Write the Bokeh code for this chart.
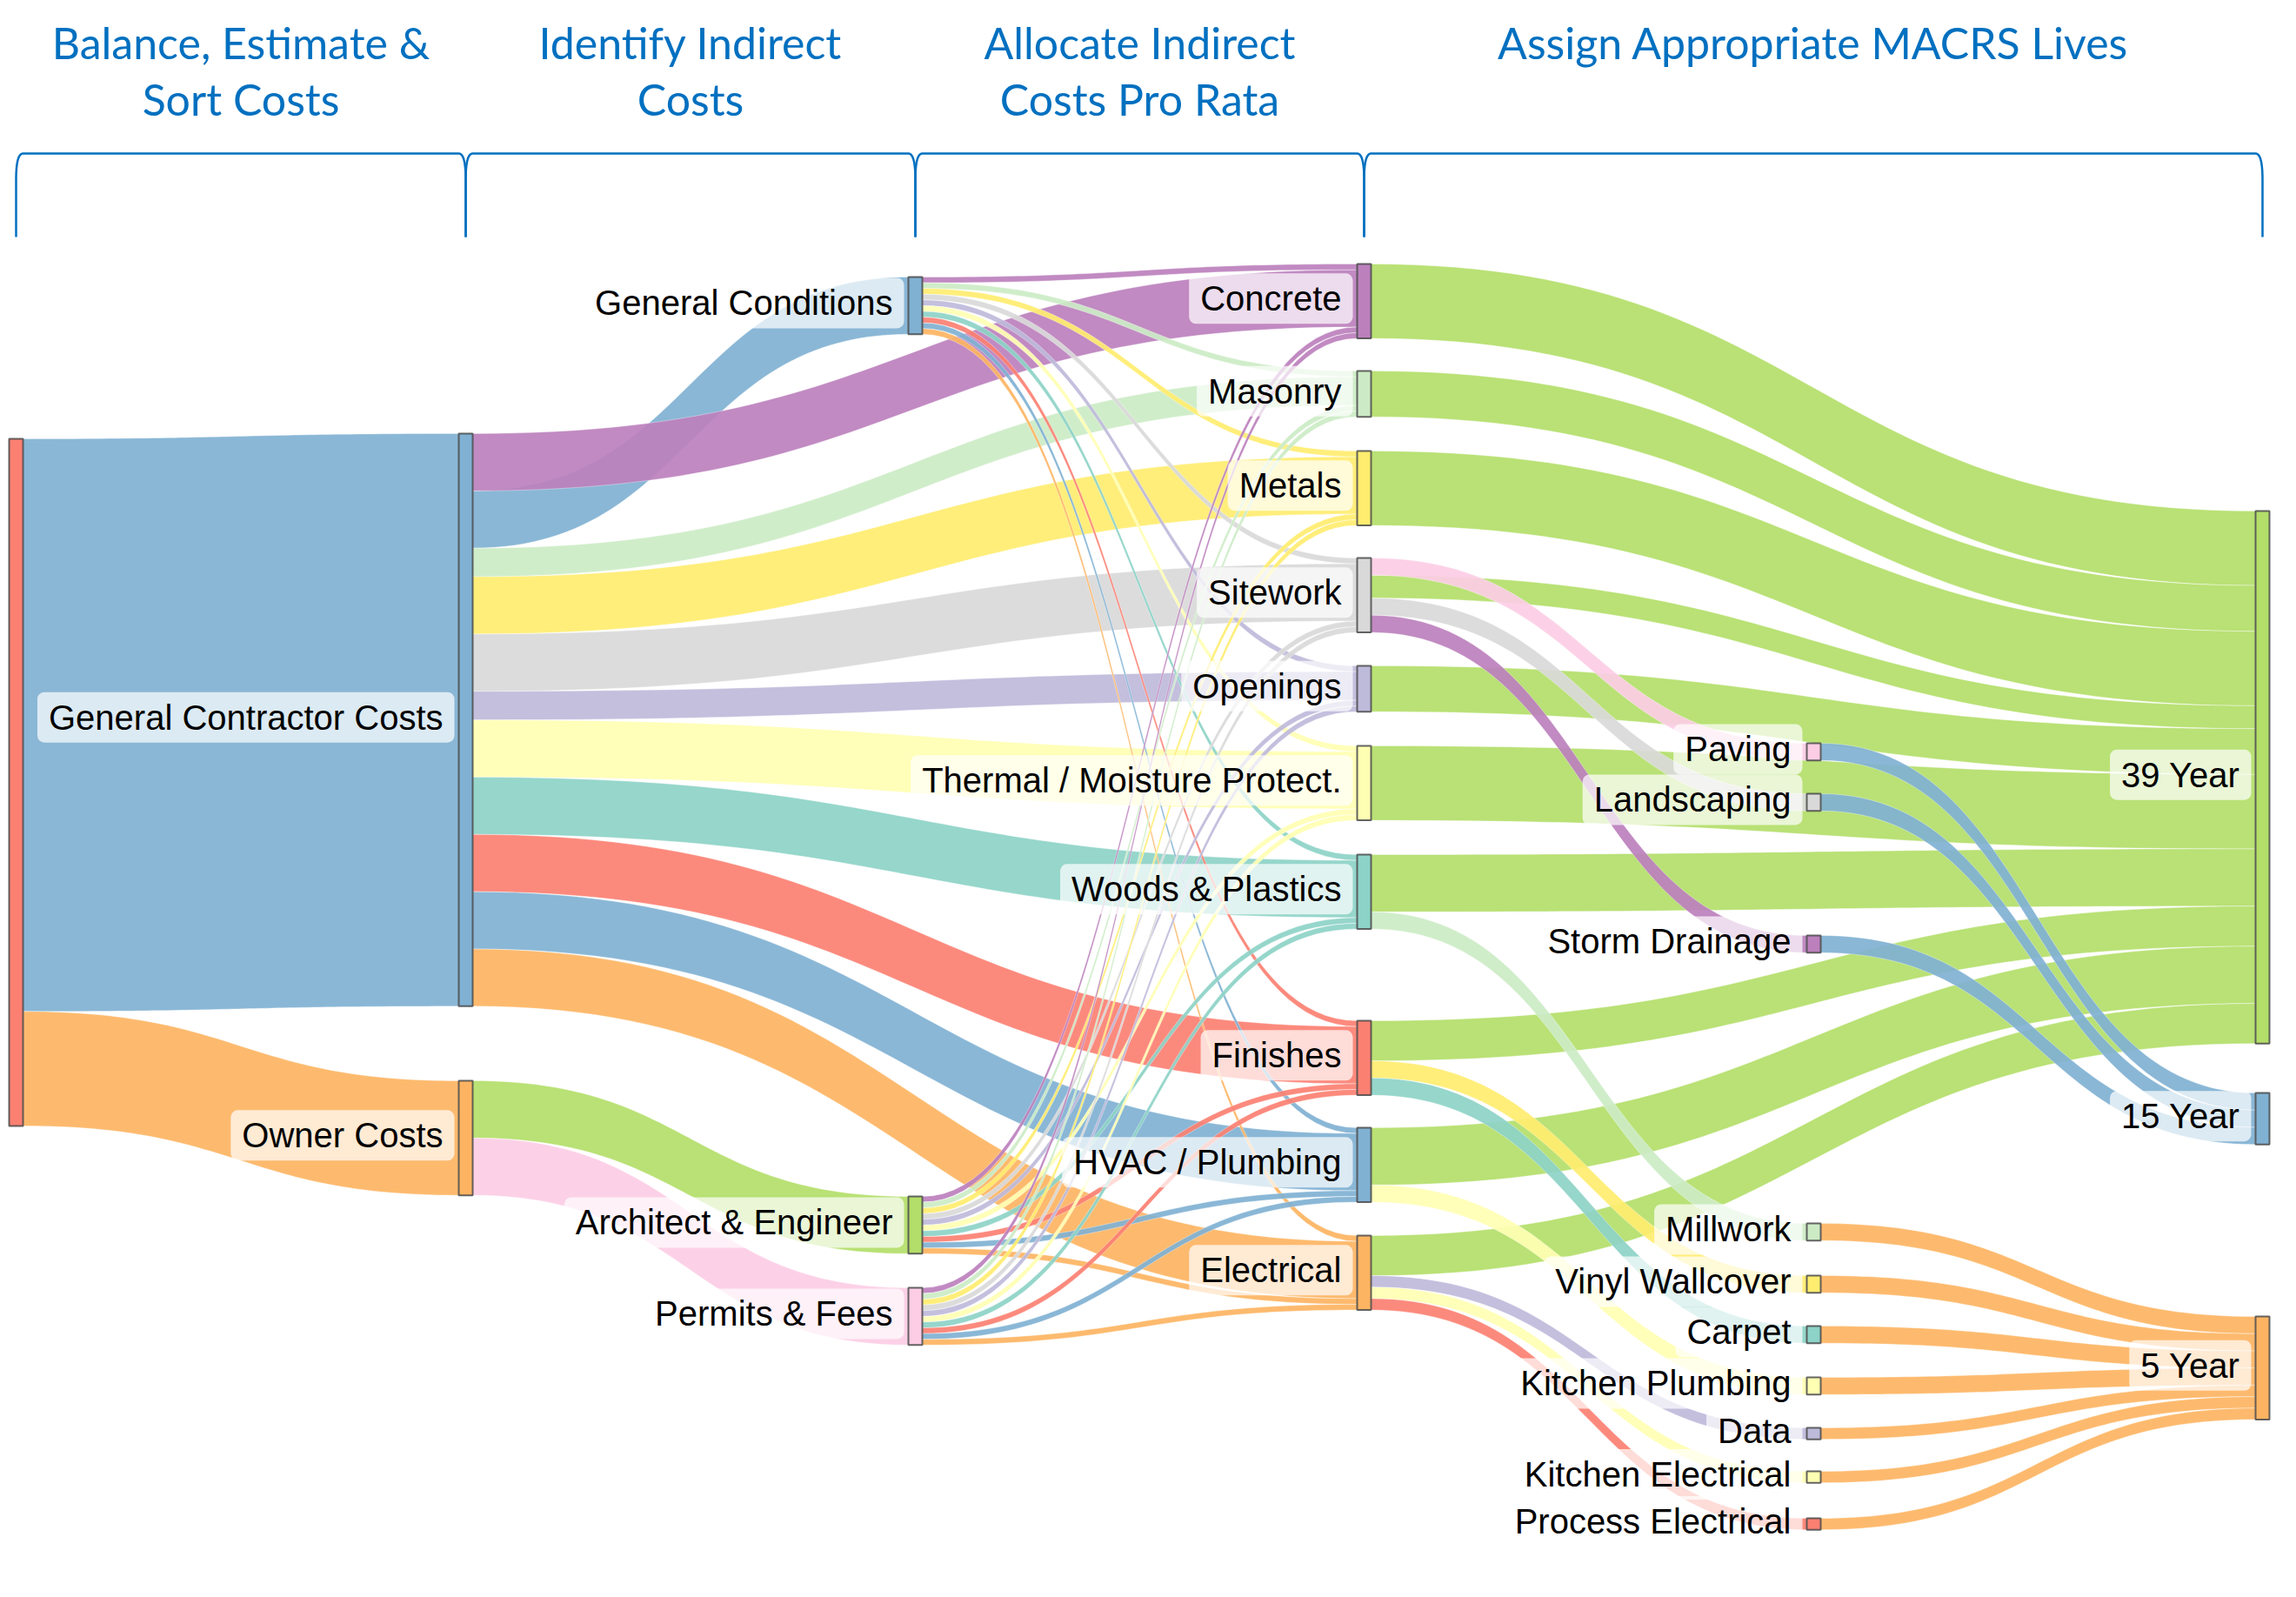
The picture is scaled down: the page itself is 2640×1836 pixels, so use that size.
import numpy as np
from bokeh.plotting import figure
from bokeh.models import Range1d
from bokeh.embed import file_html
from bokeh.resources import INLINE
from bokeh.core.properties import value

# ---------------- data ----------------
node_names = [
    "Total", "General Contractor Costs", "Owner Costs",
    "General Conditions", "Architect & Engineer", "Permits & Fees",
    "Concrete", "Masonry", "Metals", "Sitework", "Openings",
    "Thermal / Moisture Protect.", "Woods & Plastics", "Finishes",
    "HVAC / Plumbing", "Electrical",
    "Paving", "Landscaping", "Storm Drainage", "Millwork", "Vinyl Wallcover",
    "Carpet", "Kitchen Plumbing", "Data", "Kitchen Electrical", "Process Electrical",
    "39 Year", "15 Year", "5 Year",
]
node_labels = [
    "", "General Contractor Costs", "Owner Costs",
    "General Conditions", "Architect & Engineer", "Permits & Fees",
    "Concrete", "Masonry", "Metals", "Sitework", "Openings",
    "Thermal / Moisture Protect.", "Woods & Plastics", "Finishes",
    "HVAC / Plumbing", "Electrical",
    "Paving", "Landscaping", "Storm Drainage", "Millwork", "Vinyl Wallcover",
    "Carpet", "Kitchen Plumbing", "Data", "Kitchen Electrical", "Process Electrical",
    "39 Year", "15 Year", "5 Year",
]
node_colors = [
    "#fb8072", "#80b1d3", "#fdb462",
    "#80b1d3", "#b3de69", "#fccde5",
    "#bc80bd", "#ccebc5", "#ffed6f", "#d9d9d9", "#bebada",
    "#ffffb3", "#8dd3c7", "#fb8072", "#80b1d3", "#fdb462",
    "#fccde5", "#d9d9d9", "#bc80bd", "#ccebc5", "#ffed6f",
    "#8dd3c7", "#ffffb3", "#bebada", "#ffffb3", "#fb8072",
    "#b3de69", "#80b1d3", "#fdb462",
]

direct_costs = ["Concrete", "Masonry", "Metals", "Sitework", "Openings",
                "Thermal / Moisture Protect.", "Woods & Plastics", "Finishes",
                "HVAC / Plumbing", "Electrical"]
gc_direct_values = [400, 200, 400, 400, 200, 400, 400, 400, 400, 400]
gencond_alloc = [40, 40, 40, 40, 40, 40, 40, 40, 40, 40]
ae_alloc = [40, 40, 40, 40, 40, 40, 40, 40, 40, 40]
permits_alloc = [40, 40, 40, 40, 40, 40, 40, 40, 40, 40]
to_39_values = [520, 320, 520, 160, 320, 520, 400, 280, 400, 280]

split_src = ["Sitework", "Sitework", "Sitework", "Woods & Plastics", "Finishes",
             "Finishes", "HVAC / Plumbing", "Electrical", "Electrical", "Electrical"]
split_tgt = ["Paving", "Landscaping", "Storm Drainage", "Millwork", "Vinyl Wallcover",
             "Carpet", "Kitchen Plumbing", "Data", "Kitchen Electrical", "Process Electrical"]
split_values = [120, 120, 120, 120, 120, 120, 120, 80, 80, 80]

life_src = ["Paving", "Landscaping", "Storm Drainage", "Millwork", "Vinyl Wallcover",
            "Carpet", "Kitchen Plumbing", "Data", "Kitchen Electrical", "Process Electrical"]
life_tgt = ["15 Year", "15 Year", "15 Year", "5 Year", "5 Year",
            "5 Year", "5 Year", "5 Year", "5 Year", "5 Year"]
life_values = [120, 120, 120, 120, 120, 120, 120, 80, 80, 80]

top_links = [("Total", "General Contractor Costs", 4000), ("Total", "Owner Costs", 800),
             ("General Contractor Costs", "General Conditions", 400)]
owner_links = [("Owner Costs", "Architect & Engineer", 400), ("Owner Costs", "Permits & Fees", 400)]

title_lines = [["Balance, Estimate &", "Sort Costs"], ["Identify Indirect", "Costs"],
               ["Allocate Indirect", "Costs Pro Rata"], ["Assign Appropriate MACRS Lives"]]

# ---------------- layout (positions / styles) ----------------
COL_X = [10, 527, 1044, 1560, 2077, 2593]
NODE_W = 16
PX_PER_UNIT = 790.0 / 4800.0
node_col = [0, 1, 1, 2, 2, 2] + [3] * 10 + [4] * 10 + [5] * 3
node_top = {
    "Total": 506, "General Contractor Costs": 500, "Owner Costs": 1244,
    "General Conditions": 320, "Architect & Engineer": 1377, "Permits & Fees": 1482,
    "Concrete": 305, "Masonry": 428, "Metals": 520, "Sitework": 643, "Openings": 767,
    "Thermal / Moisture Protect.": 859, "Woods & Plastics": 984, "Finishes": 1175,
    "HVAC / Plumbing": 1298, "Electrical": 1422,
    "Paving": 856, "Landscaping": 914, "Storm Drainage": 1077, "Millwork": 1408,
    "Vinyl Wallcover": 1468, "Carpet": 1526, "Kitchen Plumbing": 1585, "Data": 1643,
    "Kitchen Electrical": 1693, "Process Electrical": 1747,
    "39 Year": 589, "15 Year": 1258, "5 Year": 1515,
}
TITLE_BASE = [50, 115]
LABEL_GAP = 5
LABEL_DY = -3

# ---------------- build link list ----------------
links = list(top_links)
links += [("General Contractor Costs", t, v) for t, v in zip(direct_costs, gc_direct_values)]
links += owner_links
links += [("General Conditions", t, v) for t, v in zip(direct_costs, gencond_alloc)]
links += [("Architect & Engineer", t, v) for t, v in zip(direct_costs, ae_alloc)]
links += [("Permits & Fees", t, v) for t, v in zip(direct_costs, permits_alloc)]
links += [(s, "39 Year", v) for s, v in zip(direct_costs, to_39_values)]
links += list(zip(split_src, split_tgt, split_values))
links += list(zip(life_src, life_tgt, life_values))

idx = {n: i for i, n in enumerate(node_names)}
N = len(node_names)
val_in = np.zeros(N)
val_out = np.zeros(N)
for s, t, v in links:
    val_out[idx[s]] += v
    val_in[idx[t]] += v
node_val = np.maximum(val_in, val_out)
node_h = node_val * PX_PER_UNIT
node_y0 = np.array([node_top[n] for n in node_names], dtype=float)
node_x0 = np.array([COL_X[c] for c in node_col], dtype=float)
node_cy = node_y0 + node_h / 2

# link offsets: outgoing sorted by target centre, incoming by source centre
out_off = {}
in_off = {}
for i in range(N):
    outs = sorted([k for k, l in enumerate(links) if idx[l[0]] == i], key=lambda k: node_cy[idx[links[k][1]]])
    y = node_y0[i]
    for k in outs:
        out_off[k] = y
        y += links[k][2] * PX_PER_UNIT
    ins = sorted([k for k, l in enumerate(links) if idx[l[1]] == i], key=lambda k: node_cy[idx[links[k][0]]])
    y = node_y0[i]
    for k in ins:
        in_off[k] = y
        y += links[k][2] * PX_PER_UNIT

t = np.linspace(0, 1, 60)


def bez(x0, y0, x1, y1):
    xm = (x0 + x1) / 2
    bx = (1 - t) ** 3 * x0 + 3 * (1 - t) ** 2 * t * xm + 3 * (1 - t) * t ** 2 * xm + t ** 3 * x1
    by = (1 - t) ** 3 * y0 + 3 * (1 - t) ** 2 * t * y0 + 3 * (1 - t) * t ** 2 * y1 + t ** 3 * y1
    return bx, by


lxs, lys, lcols = [], [], []
for k, (s, tg, v) in enumerate(links):
    si, ti = idx[s], idx[tg]
    w = v * PX_PER_UNIT
    x0 = node_x0[si] + NODE_W
    x1 = node_x0[ti]
    tx, ty = bez(x0, out_off[k], x1, in_off[k])
    bx, by = bez(x0, out_off[k] + w, x1, in_off[k] + w)
    lxs.append(list(tx) + list(bx[::-1]))
    lys.append(list(ty) + list(by[::-1]))
    lcols.append(node_colors[ti])

# ---------------- figure ----------------
p = figure(width=2624, height=1820, x_range=Range1d(0, 2624), y_range=Range1d(1822, 2),
           output_backend="svg", toolbar_location=None, min_border=0,
           x_axis_location=None, y_axis_location=None)
p.grid.visible = False
p.outline_line_color = None
p.background_fill_color = "white"

p.patches(lxs, lys, fill_color=lcols, fill_alpha=0.92, line_color="white", line_alpha=0.35, line_width=1)

p.quad(left=node_x0, right=node_x0 + NODE_W, top=node_y0, bottom=node_y0 + node_h,
       fill_color=node_colors, line_color="#4a4a4a", line_alpha=0.85, line_width=2)

lab_idx = [i for i in range(N) if node_labels[i]]
p.text(x=[node_x0[i] - LABEL_GAP for i in lab_idx], y=[node_cy[i] + LABEL_DY for i in lab_idx],
       text=[node_labels[i] for i in lab_idx], text_align="right", text_baseline="middle",
       text_font=value("Liberation Sans"), text_font_size="40px", text_color="#000000",
       background_fill_color="white", background_fill_alpha=0.7,
       padding=dict(left=13, right=13, top=7, bottom=7), border_radius=8)

# brackets + titles
BR_TOP, BR_BOT, BR_R, BR_D = 178, 274, 30, 8
centers = [COL_X[c] + NODE_W / 2 for c in range(6)]
spans = [(centers[0], centers[1]), (centers[1], centers[2]), (centers[2], centers[3]), (centers[3], centers[5])]
tq = np.linspace(0, 1, 20)
bxs, bys = [], []
for xl, xr in spans:
    cx = (1 - tq) ** 2 * xl + 2 * (1 - tq) * tq * xl + tq ** 2 * (xl + BR_D)
    cy = (1 - tq) ** 2 * (BR_TOP + BR_R) + 2 * (1 - tq) * tq * BR_TOP + tq ** 2 * BR_TOP
    rx = (1 - tq) ** 2 * (xr - BR_D) + 2 * (1 - tq) * tq * xr + tq ** 2 * xr
    ry = (1 - tq) ** 2 * BR_TOP + 2 * (1 - tq) * tq * BR_TOP + tq ** 2 * (BR_TOP + BR_R)
    bxs.append([xl] + list(cx) + list(rx) + [xr])
    bys.append([BR_BOT] + list(cy) + list(ry) + [BR_BOT])
p.multi_line(bxs, bys, line_color="#0070c0", line_width=2.5)

tx_, ty_, tt_ = [], [], []
for (xl, xr), lines in zip(spans, title_lines):
    for j, ln in enumerate(lines):
        tx_.append((xl + xr) / 2)
        ty_.append(TITLE_BASE[j])
        tt_.append(ln)
p.text(x=tx_, y=ty_, text=tt_, text_align="center", text_baseline="alphabetic",
       text_font=value("Lato"), text_font_size="50px", text_color="#0070c0")

open("out.html", "w").write(file_html(p, INLINE))
